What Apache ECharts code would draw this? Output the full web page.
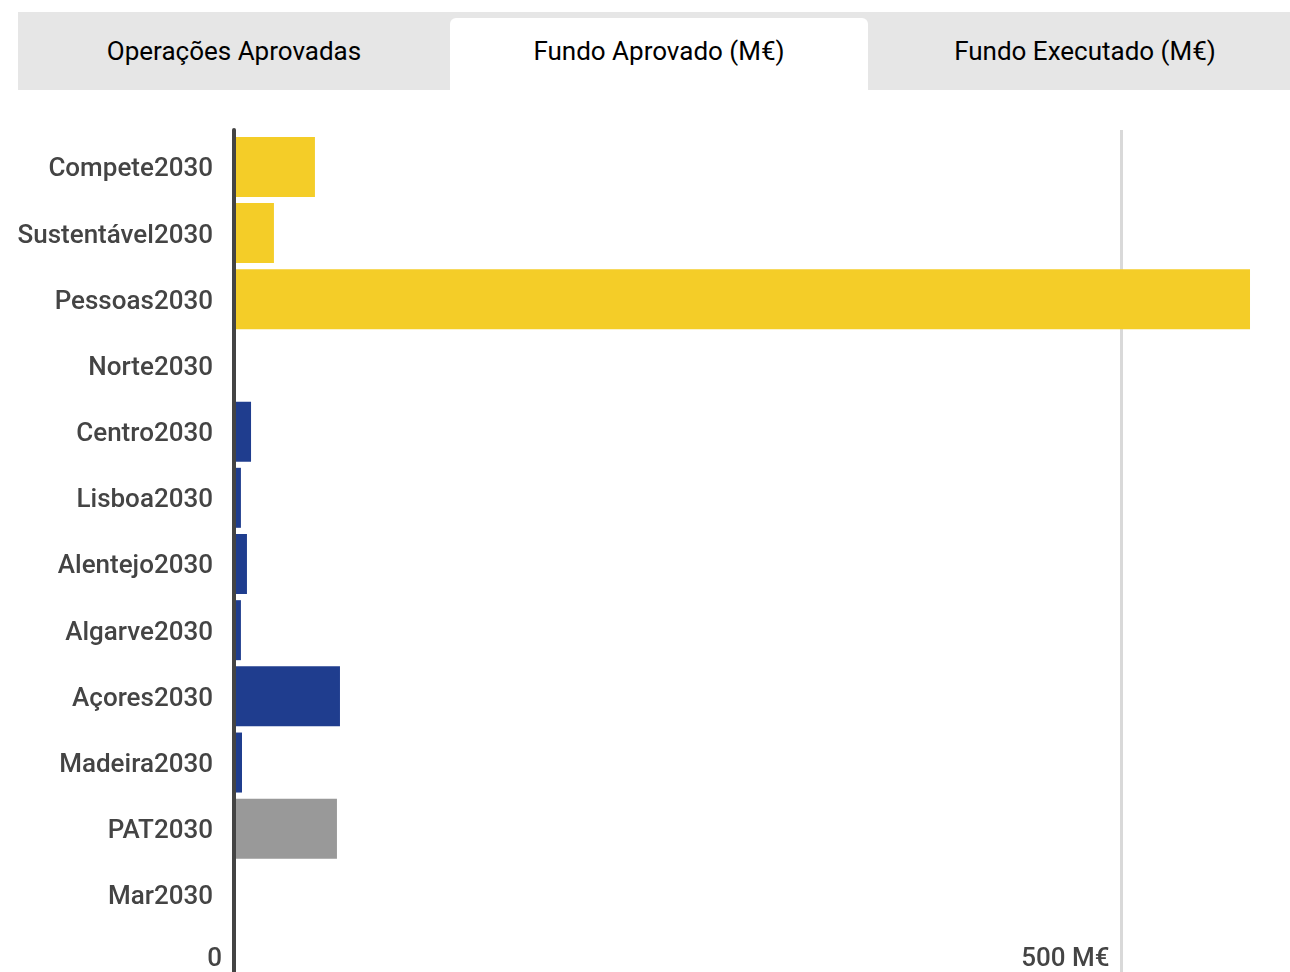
<!DOCTYPE html>
<html>
<head>
<meta charset="utf-8">
<script src="https://cdn.jsdelivr.net/npm/echarts@6/dist/echarts.min.js"></script>
<style>
  html, body { margin: 0; padding: 0; background: #fff; }
  body { width: 1290px; height: 972px; position: relative; overflow: hidden; font-family: Roboto, sans-serif; }
  .tabs { position: absolute; left: 18px; top: 12px; width: 1272px; height: 78px; background: #e6e6e6; }
  .tab { position: absolute; top: 6px; height: 72px; line-height: 66px; text-align: center; font-size: 26px; color: #000; }
  .tab.on { background: #fff; border-radius: 6px 6px 0 0; }
  #chart { position: absolute; left: 0; top: 0; width: 1290px; height: 972px; }
</style>
</head>
<body>
<div id="chart"></div>
<div class="tabs">
  <div class="tab" style="left:0;width:432px;">Operações Aprovadas</div>
  <div class="tab on" style="left:432px;width:418px;">Fundo Aprovado (M€)</div>
  <div class="tab" style="left:850px;width:434px;">Fundo Executado (M€)</div>
</div>
<script>
  // dados: fundo aprovado por programa (M€)
  var programas = ['Compete2030', 'Sustentável2030', 'Pessoas2030', 'Norte2030', 'Centro2030', 'Lisboa2030',
    'Alentejo2030', 'Algarve2030', 'Açores2030', 'Madeira2030', 'PAT2030', 'Mar2030'];
  var fundoAprovado = [45.6, 22.5, 572.4, 0, 9.6, 3.9, 7.3, 3.9, 59.7, 4.5, 58.0, 0];
  var tipos = ['tematico', 'tematico', 'tematico', 'regional', 'regional', 'regional',
    'regional', 'regional', 'regional', 'regional', 'pat', 'mar'];
  var cores = { tematico: '#f4cd28', regional: '#1f3d8e', pat: '#999999', mar: '#1f3d8e' };
  var xTicks = [0, 500];

  var dados = fundoAprovado.map(function(v, i){
    return { value: v, itemStyle: { color: cores[tipos[i]] } };
  });

  var chart = echarts.init(document.getElementById('chart'));
  var xMax = 580;
  chart.setOption({
    animation: false,
    grid: [
      { left: 234, right: 26.5, top: 133.8, bottom: 41.4 },
      { left: 234, right: 26.5, top: 130, bottom: 0 }   // só para as linhas de fundo em toda a altura
    ],
    xAxis: [
      {
        gridIndex: 0, type: 'value', min: 0, max: xMax, interval: 500,
        axisLine: { show: false }, axisTick: { show: false }, splitLine: { show: false },
        axisLabel: {
          showMaxLabel: false, align: 'right', margin: 18, padding: [0, 12, 0, 0],
          fontFamily: 'Roboto', fontSize: 26, fontWeight: 500, color: '#444',
          formatter: function(v){ return v === xTicks[0] ? '0' : v + ' M€'; }
        }
      },
      {
        gridIndex: 1, type: 'value', min: 0, max: xMax, interval: 500,
        axisLine: { show: false }, axisTick: { show: false }, axisLabel: { show: false },
        splitLine: { show: true, showMinLine: false, showMaxLine: false, lineStyle: { color: '#d9d9d9', width: 3 } }
      }
    ],
    yAxis: [
      {
        gridIndex: 0, type: 'category', inverse: true, data: programas,
        axisLine: { show: false }, axisTick: { show: false },
        axisLabel: {
          margin: 21,
          formatter: function(v){ return '{p|' + v + '}'; },
          rich: { p: { padding: [6, 0, 0, 0], fontFamily: 'Roboto', fontSize: 26, fontWeight: 500, color: '#444' } }
        }
      },
      {
        gridIndex: 1, type: 'category', data: [''], z: 10,
        axisLine: { show: true, lineStyle: { color: '#444', width: 4 } },
        axisTick: { show: false }, axisLabel: { show: false }
      }
    ],
    series: [{
      type: 'bar', xAxisIndex: 0, yAxisIndex: 0,
      data: dados, barWidth: 60
    }]
  });
</script>
</body>
</html>
